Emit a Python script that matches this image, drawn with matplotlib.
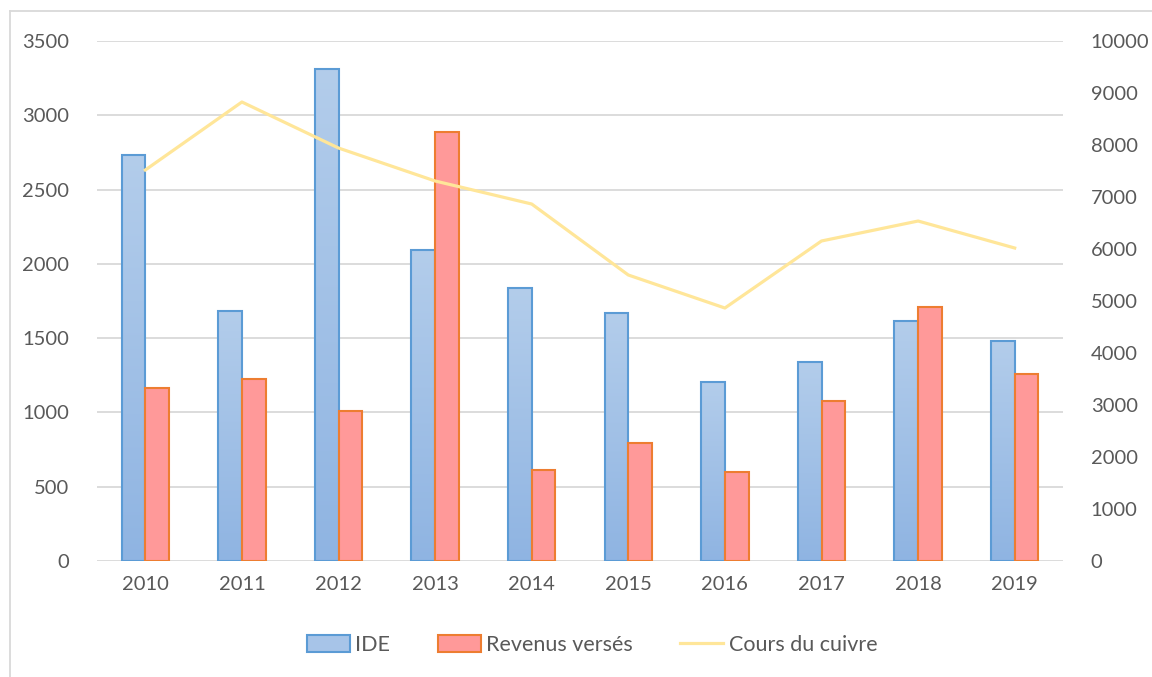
import matplotlib
matplotlib.use("Agg")
import matplotlib.pyplot as plt
import numpy as np
from matplotlib.patches import Patch
from matplotlib.lines import Line2D
from matplotlib.colors import LinearSegmentedColormap

years = ["2010", "2011", "2012", "2013", "2014", "2015", "2016", "2017", "2018", "2019"]
ide = [2733, 1683, 3312, 2093, 1837, 1669, 1205, 1339, 1615, 1481]
revenus = [1164, 1225, 1010, 2888, 612, 794, 599, 1077, 1710, 1259]
cuivre = [7519, 8827, 7942, 7308, 6865, 5500, 4865, 6154, 6538, 6019]

plt.rcParams['font.family'] = ['Lato', 'DejaVu Sans']
txt = '#595959'
grid = '#d9d9d9'

W, H = 1152, 677
fig = plt.figure(figsize=(W/100, H/100), dpi=100)
ax = fig.add_axes([97/W, 1-561/H, (1063-97)/W, (561-41)/H])
ax2 = ax.twinx()

x = np.arange(len(years))
bw = 0.245
ax.set_xlim(-0.5, len(years)-0.5)
ax.set_ylim(0, 3500)
ax2.set_ylim(0, 10000)

for v in range(0, 3501, 500):
    ax.axhline(v, color=grid, lw=1.3, zorder=0)

cmap = LinearSegmentedColormap.from_list('g', ['#8fb4e2', '#b3cdeb'])
grad = np.linspace(0, 1, 256).reshape(-1, 1)
bars1 = ax.bar(x - bw/2, ide, bw, color='none', edgecolor='#5b9bd5', linewidth=1.5, zorder=3)
for b in bars1:
    x0, w, h = b.get_x(), b.get_width(), b.get_height()
    im = ax.imshow(grad, cmap=cmap, aspect='auto', origin='lower',
                   extent=[x0, x0+w, 0, h], zorder=2)
    im.set_clip_path(b)
ax.set_xlim(-0.5, len(years)-0.5)
ax.set_ylim(0, 3500)
ax.bar(x + bw/2, revenus, bw, color='#ff9999', edgecolor='#ed7d31', linewidth=1.5, zorder=3)

ax2.plot(x, cuivre, color='#ffe699', lw=2.3, zorder=4)

ax.set_yticks(range(0, 3501, 500))
ax2.set_yticks(range(0, 10001, 1000))
ax.set_xticks(x)
ax.set_xticklabels(years)
for a in (ax, ax2):
    for s in a.spines.values():
        s.set_visible(False)
    a.tick_params(length=0, labelsize=14.5, colors=txt)
ax.tick_params(axis='y', pad=20)
ax2.tick_params(axis='y', pad=20)
ax.tick_params(axis='x', pad=11)

handles = [Patch(facecolor='#a7c4e8', edgecolor='#5b9bd5', linewidth=1.5),
           Patch(facecolor='#ff9999', edgecolor='#ed7d31', linewidth=1.5),
           Line2D([0], [0], color='#ffe699', lw=2.3)]
fig.legend(handles, ['IDE', 'Revenus versés', 'Cours du cuivre'], loc='center',
           bbox_to_anchor=(592/W, 1-645/H), ncol=3, frameon=False,
           fontsize=15.5, labelcolor=txt, handlelength=2.0, handleheight=0.8,
           columnspacing=2.2, handletextpad=0.25)

fig.add_artist(Line2D([10/W, 1], [1-11/H, 1-11/H], color=grid, lw=1.3))
fig.add_artist(Line2D([10/W, 10/W], [0, 1-11/H], color=grid, lw=1.3))

fig.savefig('out.png', dpi=100)
